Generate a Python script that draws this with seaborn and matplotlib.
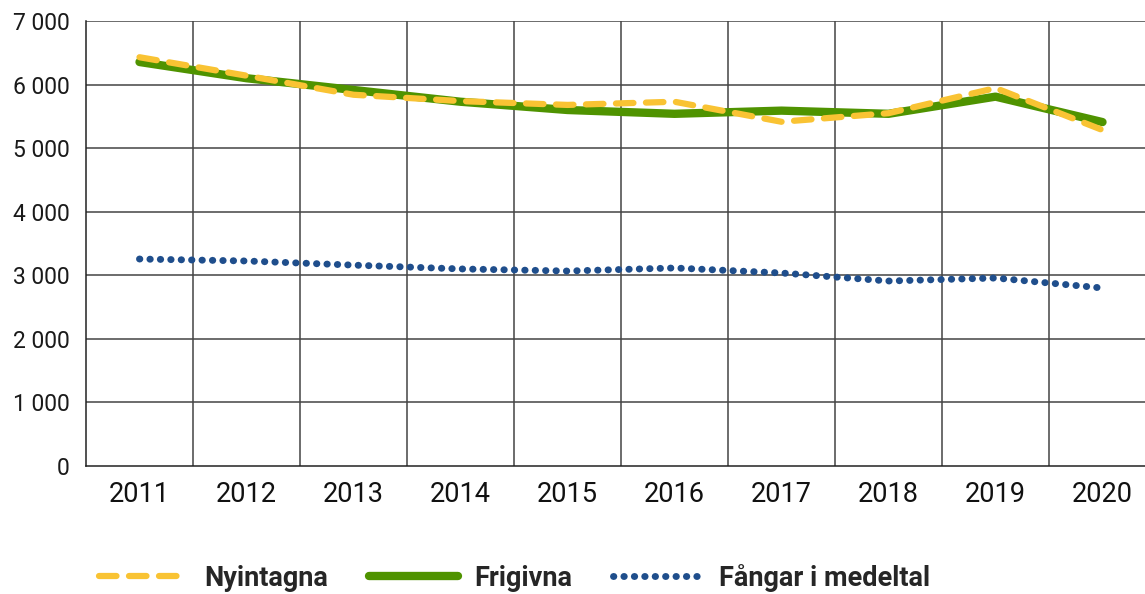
import matplotlib
matplotlib.use("Agg")
import matplotlib.pyplot as plt
import seaborn as sns
import pandas as pd

years = ["2011", "2012", "2013", "2014", "2015", "2016", "2017", "2018", "2019", "2020"]
nyintagna = [6430, 6140, 5840, 5740, 5680, 5730, 5415, 5550, 5945, 5285]
frigivna = [6355, 6100, 5915, 5730, 5600, 5540, 5590, 5540, 5810, 5410]
fangar = [3256, 3225, 3160, 3100, 3067, 3115, 3036, 2910, 2957, 2800]

df = pd.DataFrame({"x": range(len(years)), "Nyintagna": nyintagna,
                   "Frigivna": frigivna, "Fångar i medeltal": fangar})

sns.set_theme(style="white")
plt.rcParams["font.family"] = ["Roboto", "DejaVu Sans"]

fig = plt.figure(figsize=(11.45, 5.94), dpi=100)
ax = fig.add_axes([86 / 1145, 128 / 594, 1070 / 1145, 445 / 594])

sns.lineplot(data=df, x="x", y="Frigivna", ax=ax, color="#4f9300", lw=6,
             solid_capstyle="round", label="Frigivna", zorder=3)
sns.lineplot(data=df, x="x", y="Nyintagna", ax=ax, color="#f9c333", lw=4.5,
             linestyle=(0, (2.8, 2.0)), dash_capstyle="round", label="Nyintagna", zorder=4)
sns.lineplot(data=df, x="x", y="Fångar i medeltal", ax=ax, color="#1f4e8c", lw=5,
             linestyle=(0, (0.05, 1.45)), dash_capstyle="round",
             label="Fångar i medeltal", zorder=3)

ax.set_xlim(-0.5, 9.5)
ax.set_ylim(0, 7000)
ax.set_yticks(range(0, 7001, 1000))
ax.set_yticklabels([f"{v:,}".replace(",", " ") for v in range(0, 7001, 1000)],
                   fontsize=16.5, fontweight="normal", color="#1a1a1a")
ax.set_xticks(range(len(years)))
ax.set_xticklabels(years, fontsize=19.5, color="#111111")
ax.tick_params(axis="both", length=0)
ax.tick_params(axis="x", pad=11)
ax.tick_params(axis="y", pad=12)
ax.set_xlabel("")
ax.set_ylabel("")

for v in range(1000, 7001, 1000):
    ax.axhline(v, color="#444444", lw=1.1, zorder=1)
for b in range(len(years)):
    ax.axvline(b + 0.5, color="#444444", lw=1.1, zorder=1)

for s in ["top", "right"]:
    ax.spines[s].set_visible(False)
ax.spines["left"].set_color("#222222")
ax.spines["bottom"].set_color("#222222")
ax.spines["left"].set_linewidth(1.1)
ax.spines["bottom"].set_linewidth(1.1)

handles, labels = ax.get_legend_handles_labels()
order = [labels.index("Nyintagna"), labels.index("Frigivna"), labels.index("Fångar i medeltal")]
ax.legend_.remove()
fig.legend([handles[i] for i in order], [labels[i] for i in order],
           loc="lower center", bbox_to_anchor=(0.449, -0.037), ncol=3, frameon=False,
           prop={"size": 19.5, "weight": "bold"}, handlelength=3.3,
           handletextpad=0.6, columnspacing=1.5)

fig.savefig("out.png", dpi=100)
